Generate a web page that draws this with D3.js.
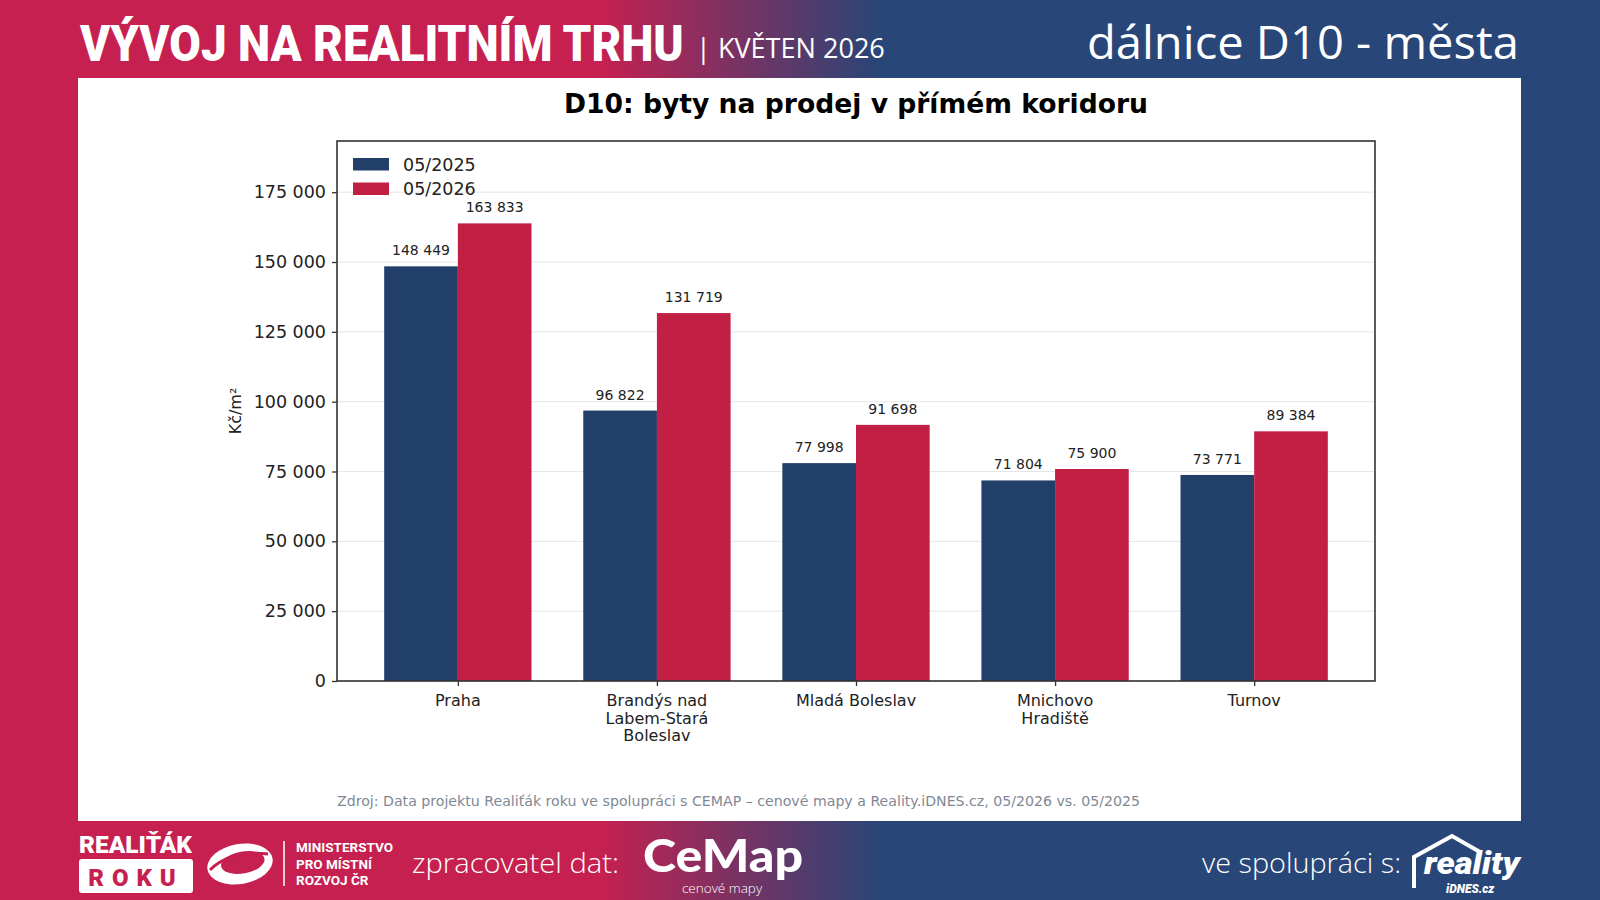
<!DOCTYPE html>
<html><head><meta charset="utf-8">
<script src="https://cdn.jsdelivr.net/npm/d3@7/dist/d3.min.js"></script>
<style>body{margin:0;background:#fff;} svg{display:block;}</style>
</head><body>
<svg id="c" width="1600" height="900"></svg>
<script>
const categories = ["Praha", "Brandýs nad Labem-Stará Boleslav", "Mladá Boleslav", "Mnichovo Hradiště", "Turnov"];
const categoryLines = [["Praha"], ["Brandýs nad", "Labem-Stará", "Boleslav"], ["Mladá Boleslav"], ["Mnichovo", "Hradiště"], ["Turnov"]];
const seriesNames = ["05/2025", "05/2026"];
const values2025 = [148449, 96822, 77998, 71804, 73771];
const values2026 = [163833, 131719, 91698, 75900, 89384];
const yTicks = [0, 25000, 50000, 75000, 100000, 125000, 150000, 175000];

const BLUE = "#223f69", RED = "#c21f45";
const HEAD_RED = "#c62050", HEAD_BLUE = "#284677";

const svg = d3.select("#c");
const defs = svg.append("defs");
const g1 = defs.append("linearGradient").attr("id","bg").attr("x1","0").attr("x2","1600").attr("y1","0").attr("y2","0").attr("gradientUnits","userSpaceOnUse");
g1.append("stop").attr("offset", 600/1600).attr("stop-color", HEAD_RED);
g1.append("stop").attr("offset", 880/1600).attr("stop-color", HEAD_BLUE);

svg.append("rect").attr("width",1600).attr("height",900).attr("fill","url(#bg)");
svg.append("rect").attr("x",78).attr("y",78).attr("width",1443).attr("height",743).attr("fill","#fff");

// fit text horizontally to a target width via a scale transform (keeps real bbox)
function fitText(sel, x0, y0, w, anchorEnd) {
  const nat = sel.node().getComputedTextLength();
  const k = w / nat;
  const xs = anchorEnd ? x0 - w : x0;
  sel.attr("x", 0).attr("y", 0).attr("text-anchor", "start")
     .attr("transform", `translate(${xs},${y0}) scale(${k},1)`);
  return sel;
}

// header
fitText(svg.append("text").attr("font-family","Roboto").attr("font-weight",900)
  .attr("font-size",50).attr("fill","#fff").text("VÝVOJ NA REALITNÍM TRHU"), 80, 61, 604);
fitText(svg.append("text").attr("font-family","Open Sans").attr("font-weight",400)
  .attr("font-size",27).attr("fill","#fff").text("| KVĚTEN 2026"), 696, 58, 189);
fitText(svg.append("text").attr("font-family","Open Sans").attr("font-weight",400)
  .attr("font-size",46).attr("fill","#fff").text("dálnice D10 - města"), 1519, 59, 432, true);

// chart
const L = 337, R = 1375, T = 141, B = 681;
const barW = 0.37;
const x = d3.scaleLinear().domain([-barW - 0.237, categories.length - 1 + barW + 0.237]).range([L, R]);
const y = d3.scaleLinear().domain([0, 193323]).range([B, T]);
const fmt = d3.formatLocale({decimal: ",", thousands: "\u00a0", grouping: [3], currency: ["", " Kč"]}).format(",d");

svg.append("text").attr("x",(L+R)/2).attr("y",113).attr("text-anchor","middle")
  .attr("font-family","DejaVu Sans").attr("font-weight","bold").attr("font-size",26.6).attr("fill","#000")
  .text("D10: byty na prodej v přímém koridoru");

// grid
svg.append("g").selectAll("line").data(yTicks).join("line")
  .attr("x1",L).attr("x2",R).attr("y1",d=>y(d)).attr("y2",d=>y(d))
  .attr("stroke","#e6e6e6").attr("stroke-width",1);

const series = [values2025, values2026];
const colors = [BLUE, RED];
series.forEach((vals, s) => {
  const gg = svg.append("g");
  gg.selectAll("rect").data(vals).join("rect")
    .attr("x",(d,i)=>x(i - barW + s*barW)).attr("width",(d,i)=>x(i + s*barW) - x(i - barW + s*barW))
    .attr("y",d=>y(d)).attr("height",d=>B - y(d)).attr("fill",colors[s]);
  gg.selectAll("text").data(vals).join("text")
    .attr("x",(d,i)=>x(i - barW/2 + s*barW)).attr("y",d=>y(d) - 11)
    .attr("text-anchor","middle").attr("font-family","DejaVu Sans").attr("font-size",14).attr("fill","#222")
    .text(d=>fmt(d));
});

// frame
svg.append("rect").attr("x",L).attr("y",T).attr("width",R-L).attr("height",B-T)
  .attr("fill","none").attr("stroke","#333").attr("stroke-width",1.6);

// y axis
const yAxis = d3.axisLeft(y).tickValues(yTicks).tickSize(5).tickPadding(6).tickFormat(d=>fmt(d));
const ya = svg.append("g").attr("transform",`translate(${L},0)`).call(yAxis);
ya.select(".domain").remove();
ya.selectAll("line").attr("stroke","#333").attr("stroke-width",1.3);
ya.selectAll("text").attr("font-family","DejaVu Sans").attr("font-size",17.5).attr("fill","#222");

// x axis
const xa = svg.append("g").attr("transform",`translate(0,${B})`)
  .call(d3.axisBottom(x).tickValues(d3.range(categories.length)).tickSize(5).tickFormat(""));
xa.select(".domain").remove();
xa.selectAll("line").attr("stroke","#333").attr("stroke-width",1.3);
const xl = svg.append("g");
categoryLines.forEach((lines, i) => {
  const t = xl.append("text").attr("text-anchor","middle").attr("font-family","DejaVu Sans")
    .attr("font-size",16).attr("fill","#222");
  lines.forEach((ln, k) => t.append("tspan").attr("x", x(i)).attr("y", 706 + k*17.6).text(ln));
});

// y label
svg.append("text").attr("transform",`translate(241,${(T+B)/2}) rotate(-90)`).attr("text-anchor","middle")
  .attr("font-family","DejaVu Sans").attr("font-size",16).attr("fill","#222").text("Kč/m²");

// legend
seriesNames.forEach((n, s) => {
  svg.append("rect").attr("x",353).attr("y",158 + s*24.5).attr("width",36).attr("height",12.5).attr("fill",colors[s]);
  svg.append("text").attr("x",403).attr("y",170.5 + s*24.5).attr("font-family","DejaVu Sans").attr("font-size",17.5)
    .attr("fill","#222").text(n);
});

// source
svg.append("text").attr("x",337).attr("y",806).attr("font-family","DejaVu Sans").attr("font-size",13.5)
  .attr("fill","#7f8896").attr("textLength",803).attr("lengthAdjust","spacingAndGlyphs")
  .text("Zdroj: Data projektu Realiťák roku ve spolupráci s CEMAP – cenové mapy a Reality.iDNES.cz, 05/2026 vs. 05/2025");

// footer logos
const f = svg.append("g").attr("fill","#fff");
f.append("text").attr("x",79).attr("y",853).attr("font-family","Roboto").attr("font-weight",900).attr("font-size",24)
  .attr("textLength",113).attr("lengthAdjust","spacingAndGlyphs").text("REALIŤÁK");
f.append("rect").attr("x",79).attr("y",859).attr("width",114).attr("height",34).attr("rx",3).attr("fill","#fff");
svg.append("text").attr("x",136).attr("y",886).attr("text-anchor","middle").attr("font-family","Roboto").attr("font-weight",900)
  .attr("font-size",24).attr("fill",HEAD_RED).attr("letter-spacing",8).text("ROKU");
// ministry emblem (approximate)
const m = svg.append("g").attr("transform","translate(240,864)");
m.append("ellipse").attr("rx",33).attr("ry",20).attr("fill","#fff").attr("transform","rotate(-10)");
m.append("ellipse").attr("rx",22).attr("ry",11).attr("cx",3).attr("cy",-1).attr("fill",HEAD_RED).attr("transform","rotate(-10)");
m.append("path").attr("d","M-30,6 Q-10,-14 28,-10").attr("stroke",HEAD_RED).attr("stroke-width",3).attr("fill","none");
f.append("line").attr("x1",284).attr("x2",284).attr("y1",841).attr("y2",886).attr("stroke","#fff").attr("stroke-width",1.5);
["MINISTERSTVO","PRO MÍSTNÍ","ROZVOJ ČR"].forEach((t,k)=>{
  f.append("text").attr("x",296).attr("y",852+k*16.5).attr("font-family","Roboto").attr("font-weight",700)
    .attr("font-size",13.5).text(t);
});
f.append("text").attr("x",412).attr("y",873).attr("font-family","Open Sans").attr("font-weight",300).attr("font-size",28)
  .attr("textLength",207).attr("lengthAdjust","spacingAndGlyphs").text("zpracovatel dat:");
fitText(f.append("text").attr("font-family","Lato").attr("font-weight",900).attr("font-size",46).text("CeMap"), 643, 872, 160);
f.append("text").attr("x",722).attr("y",893).attr("text-anchor","middle").attr("font-family","Open Sans").attr("font-weight",300).attr("font-size",13.5)
  .text("cenové mapy");
f.append("text").attr("x",1202).attr("y",873).attr("font-family","Open Sans").attr("font-weight",300).attr("font-size",28)
  .attr("textLength",199).attr("lengthAdjust","spacingAndGlyphs").text("ve spolupráci s:");
// reality iDNES logo (approximate)
svg.append("path").attr("d","M1414,888 L1414,857 L1452,836 L1480,852").attr("stroke","#fff").attr("stroke-width",4).attr("fill","none");
f.append("text").attr("x",1424).attr("y",874).attr("font-family","Roboto").attr("font-style","italic").attr("font-weight",900)
  .attr("font-size",32).attr("textLength",96).attr("lengthAdjust","spacingAndGlyphs").text("reality");
f.append("text").attr("x",1446).attr("y",893).attr("font-family","Roboto").attr("font-style","italic").attr("font-weight",900)
  .attr("font-size",12).text("iDNES.cz");
</script>
</body></html>
